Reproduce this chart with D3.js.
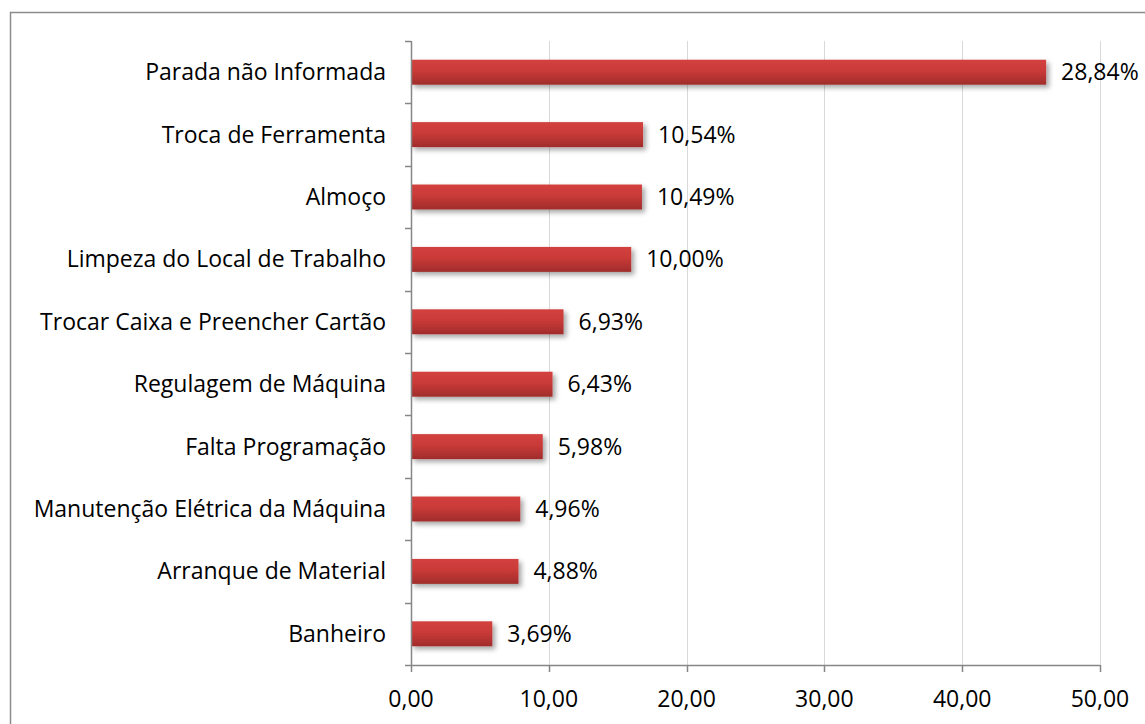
<!DOCTYPE html>
<html><head><meta charset="utf-8">
<script src="https://cdnjs.cloudflare.com/ajax/libs/d3/7.8.5/d3.min.js"></script>
<style>body{margin:0;background:#fff}svg{display:block}text{font-family:"Open Sans",sans-serif;fill:#000}</style>
</head><body><svg id="c" width="1145" height="724"></svg>
<script>
const categories = ["Parada não Informada","Troca de Ferramenta","Almoço","Limpeza do Local de Trabalho","Trocar Caixa e Preencher Cartão","Regulagem de Máquina","Falta Programação","Manutenção Elétrica da Máquina","Arranque de Material","Banheiro"];
const values = [46.09,16.84,16.76,15.98,11.07,10.27,9.56,7.93,7.80,5.90];
const percentLabels = ["28,84%","10,54%","10,49%","10,00%","6,93%","6,43%","5,98%","4,96%","4,88%","3,69%"];
const xTicks = [0,10,20,30,40,50];

const FS = 23;
const svg = d3.select("#c");
const L = 411, R = 1100, T = 41, B = 665;
const x = d3.scaleLinear().domain([0,50]).range([L,R]);
const y = d3.scaleBand().domain(categories).range([T,B]).paddingInner(0.6).paddingOuter(0.3);
const band = d3.scaleBand().domain(categories).range([T,B]);

const defs = svg.append("defs");
const g = defs.append("linearGradient").attr("id","bg").attr("x1",0).attr("y1",0).attr("x2",0).attr("y2",1);
g.append("stop").attr("offset","0%").attr("stop-color","#d3413f");
g.append("stop").attr("offset","45%").attr("stop-color","#c93a38");
g.append("stop").attr("offset","100%").attr("stop-color","#a02c2b");
const f = defs.append("filter").attr("id","sh").attr("x","-5%").attr("y","-30%").attr("width","115%").attr("height","180%");
f.append("feDropShadow").attr("dx",3).attr("dy",3).attr("stdDeviation",2.5).attr("flood-color","#000").attr("flood-opacity",0.35);

// outer frame
svg.append("rect").attr("x",10.5).attr("y",12.5).attr("width",1160).attr("height",760).attr("fill","none").attr("stroke","#8c8c8c").attr("stroke-width",1.5);

// gridlines
svg.append("g").selectAll("line").data(xTicks.slice(1)).join("line")
  .attr("x1",d=>Math.round(x(d))+0.5).attr("x2",d=>Math.round(x(d))+0.5).attr("y1",T).attr("y2",B)
  .attr("stroke","#d9d9d9").attr("stroke-width",1);

// bars
svg.append("g").selectAll("rect").data(categories).join("rect")
  .attr("x",x(0)).attr("y",(d)=>y(d)).attr("height",y.bandwidth())
  .attr("width",(d,i)=>x(values[i])-x(0)).attr("fill","url(#bg)").attr("filter","url(#sh)");

// value labels
svg.append("g").selectAll("text").data(categories).join("text")
  .attr("x",(d,i)=>x(values[i])+15).attr("y",d=>y(d)+y.bandwidth()/2).attr("dy","0.35em")
  .attr("font-size",FS).text((d,i)=>percentLabels[i]);

// y axis
const ya = svg.append("g");
ya.append("line").attr("x1",L+0.5).attr("x2",L+0.5).attr("y1",T).attr("y2",B).attr("stroke","#868686").attr("stroke-width",1.5);
const yTickPos = categories.map(c=>band(c)).concat([B]);
ya.selectAll("line.t").data(yTickPos).join("line").attr("class","t")
  .attr("x1",L-6).attr("x2",L).attr("y1",d=>Math.round(d)+0.5).attr("y2",d=>Math.round(d)+0.5).attr("stroke","#868686").attr("stroke-width",1.5);
ya.selectAll("text").data(categories).join("text")
  .attr("x",L-25).attr("y",d=>band(d)+band.bandwidth()/2).attr("dy","0.35em").attr("text-anchor","end")
  .attr("font-size",FS).text(d=>d);

// x axis
const xa = svg.append("g");
xa.append("line").attr("x1",L).attr("x2",R).attr("y1",B+0.5).attr("y2",B+0.5).attr("stroke","#868686").attr("stroke-width",1.5);
xa.selectAll("line.t").data(xTicks).join("line").attr("class","t")
  .attr("x1",d=>Math.round(x(d))+0.5).attr("x2",d=>Math.round(x(d))+0.5).attr("y1",B).attr("y2",B+7).attr("stroke","#868686").attr("stroke-width",1.5);
xa.selectAll("text").data(xTicks).join("text")
  .attr("x",d=>x(d)).attr("y",699).attr("dy","0.35em").attr("text-anchor","middle")
  .attr("font-size",FS).text(d=>d3.format(".2f")(d).replace(".",","));
</script></body></html>
